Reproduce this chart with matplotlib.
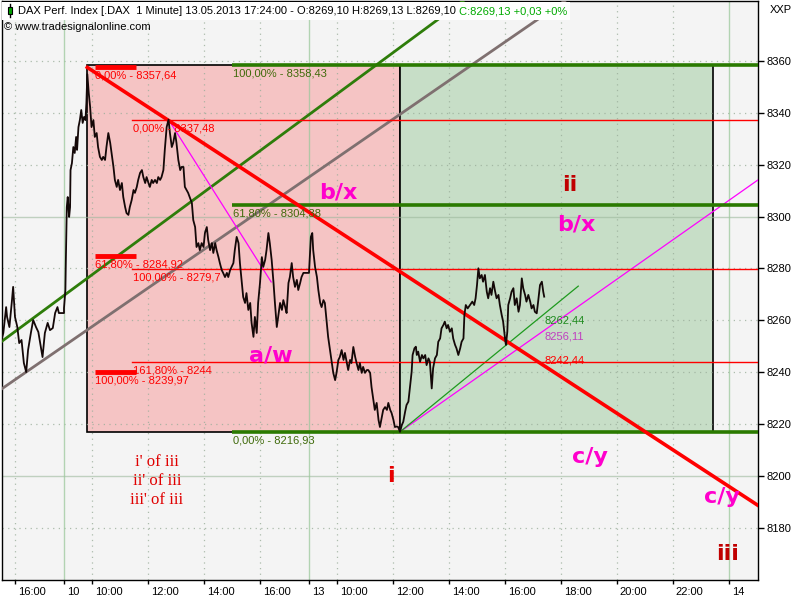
import matplotlib
matplotlib.use("Agg")
import matplotlib.pyplot as plt
from matplotlib.patches import Rectangle
from matplotlib.lines import Line2D
from matplotlib.transforms import ScaledTranslation
import numpy as np

plt.rcParams['font.family'] = ['Liberation Sans', 'DejaVu Sans']

# ------------------------------------------------------------------ data
day9_times = ["15:31", "15:35", "15:41", "15:43", "15:48", "15:53", "15:56", "16:00", "16:05",
              "16:09", "16:14", "16:19", "16:24", "16:28", "16:34", "16:39", "16:45", "16:50",
              "16:54", "16:59", "17:04", "17:10", "17:15", "17:21", "17:26", "17:31", "17:34",
              "17:45"]
day9_prices = [8252.4, 8255.1, 8265.1, 8261.3, 8257.4, 8266.7, 8272.9, 8261.3, 8257.4,
               8251.2, 8252.4, 8243.5, 8240.0, 8248.5, 8255.1, 8260.1, 8257.4, 8255.5,
               8251.2, 8245.8, 8255.1, 8259.0, 8256.2, 8257.0, 8262.8, 8265.1, 8262.8,
               8262.8]

day10_times = ["09:00", "09:03", "09:04", "09:06", "09:08", "09:11", "09:13", "09:14", "09:17",
               "09:20", "09:23", "09:26", "09:28", "09:31", "09:34", "09:37", "09:40", "09:43",
               "09:46", "09:48", "09:50", "09:53", "09:56", "09:59", "10:03", "10:06", "10:10",
               "10:13", "10:17", "10:21", "10:24", "10:28", "10:31", "10:35", "10:39", "10:42",
               "10:46", "10:49", "10:53", "10:56", "11:00", "11:04", "11:07", "11:11", "11:14",
               "11:18", "11:21", "11:25", "11:29", "11:32", "11:36", "11:39", "11:43", "11:47",
               "11:50", "11:54", "11:57", "12:01", "12:04", "12:08", "12:11", "12:15", "12:19",
               "12:22", "12:26", "12:29", "12:33", "12:36", "12:40", "12:44", "12:47", "12:51",
               "12:54", "12:58", "13:01", "13:05", "13:09", "13:12", "13:16", "13:19", "13:26",
               "13:34", "13:37", "13:41", "13:44", "13:48", "13:51", "13:55", "13:59", "14:02",
               "14:06", "14:09", "14:13", "14:17", "14:20", "14:24", "14:27", "14:31", "14:34",
               "14:38", "14:41", "14:45", "14:49", "14:52", "14:56", "14:59", "15:03", "15:06",
               "15:10", "15:14", "15:17", "15:21", "15:24", "15:28", "15:31", "15:35", "15:39",
               "15:42", "15:46", "15:49", "15:53", "15:56", "16:00", "16:04", "16:07", "16:11",
               "16:14", "16:18", "16:21", "16:25", "16:29", "16:32", "16:36", "16:39", "16:43",
               "16:47", "16:50", "16:54", "16:57", "17:01", "17:04", "17:08", "17:11", "17:15",
               "17:19", "17:22", "17:26", "17:29", "17:33", "17:36", "17:45"]
day10_prices = [8264.7, 8271.7, 8283.3, 8303.7, 8307.6, 8299.9, 8303.7, 8318.0, 8320.7,
                8326.9, 8324.6, 8330.8, 8325.8, 8334.6, 8337.3, 8341.2, 8336.2, 8338.5,
                8337.3, 8343.9, 8355.0, 8347.8, 8342.4, 8334.6, 8337.3, 8330.8, 8332.3,
                8326.9, 8323.1, 8321.9, 8323.1, 8321.9, 8326.9, 8332.3, 8328.5, 8324.6,
                8319.2, 8314.2, 8311.5, 8314.2, 8310.3, 8313.0, 8307.6, 8303.7, 8301.4,
                8300.7, 8303.7, 8306.4, 8310.3, 8309.2, 8311.5, 8314.2, 8316.9, 8318.0,
                8315.3, 8313.0, 8315.3, 8313.0, 8311.5, 8314.2, 8313.0, 8314.2, 8313.0,
                8315.3, 8314.2, 8315.3, 8318.0, 8325.8, 8334.6, 8337.48, 8332.3, 8326.9,
                8328.5, 8332.3, 8328.5, 8321.9, 8318.0, 8319.2, 8319.2, 8311.5, 8309.2,
                8305.3, 8298.7, 8296.0, 8288.3, 8289.8, 8287.1, 8289.8, 8288.3, 8293.7,
                8296.0, 8291.0, 8287.1, 8289.8, 8286.0, 8289.8, 8287.1, 8284.4, 8282.1,
                8279.4, 8278.3, 8276.7, 8278.3, 8276.7, 8279.4, 8280.6, 8282.1, 8287.1,
                8292.2, 8289.8, 8282.1, 8274.4, 8269.0, 8266.7, 8270.5, 8264.0, 8266.7,
                8259.0, 8253.6, 8261.3, 8255.1, 8266.7, 8274.4, 8284.4, 8280.6, 8283.3,
                8287.1, 8293.7, 8289.8, 8283.3, 8274.4, 8266.7, 8257.4, 8261.3, 8266.7,
                8264.0, 8267.8, 8265.1, 8262.8, 8274.4, 8276.7, 8282.1, 8276.7, 8272.9,
                8275.6, 8271.7, 8274.4, 8276.7, 8278.3, 8278.3, 8278.3]

day13_times = ["09:04", "09:07", "09:09", "09:13", "09:17", "09:20", "09:24", "09:27", "09:31",
               "09:34", "09:38", "09:41", "09:45", "09:49", "09:52", "09:56", "09:59", "10:03",
               "10:06", "10:10", "10:14", "10:17", "10:21", "10:24", "10:28", "10:31", "10:35",
               "10:39", "10:42", "10:46", "10:49", "10:53", "10:56", "11:00", "11:04", "11:07",
               "11:11", "11:14", "11:18", "11:21", "11:25", "11:29", "11:32", "11:36", "11:39",
               "11:43", "11:47", "11:50", "11:54", "11:57", "12:01", "12:04", "12:08", "12:11",
               "12:15", "12:19", "12:22", "12:26", "12:29", "12:33", "12:36", "12:40", "12:42",
               "12:46", "12:49", "12:51", "12:54", "12:58", "13:02", "13:05", "13:09", "13:12",
               "13:16", "13:19", "13:23", "13:26", "13:30", "13:34", "13:37", "13:41", "13:44",
               "13:48", "13:51", "13:55", "13:58", "14:02", "14:06", "14:09", "14:13", "14:16",
               "14:20", "14:24", "14:27", "14:31", "14:33", "14:36", "14:40", "14:45", "14:50",
               "14:54", "14:57", "15:00", "15:03", "15:06", "15:10", "15:13", "15:17", "15:21",
               "15:24", "15:28", "15:31", "15:35", "15:39", "15:42", "15:46", "15:49", "15:53",
               "15:56", "16:00", "16:02", "16:05", "16:07", "16:11", "16:14", "16:18", "16:21",
               "16:25", "16:29", "16:32", "16:36", "16:39", "16:43", "16:46", "16:50", "16:54",
               "16:57", "17:01", "17:04", "17:08", "17:11", "17:15", "17:19", "17:22", "17:24"]
day13_prices = [8292.2, 8293.7, 8287.1, 8280.6, 8276.7, 8271.7, 8266.7, 8265.1, 8267.8,
                8266.7, 8259.0, 8253.6, 8248.5, 8243.5, 8239.7, 8236.9, 8239.7, 8244.7,
                8245.8, 8248.5, 8244.7, 8247.4, 8243.5, 8240.8, 8244.7, 8243.5, 8249.7,
                8245.8, 8243.5, 8240.8, 8243.5, 8239.7, 8242.0, 8239.7, 8240.8, 8240.8,
                8239.7, 8234.2, 8229.2, 8225.4, 8228.1, 8221.5, 8218.8, 8222.7, 8225.4,
                8226.5, 8225.4, 8228.1, 8225.4, 8224.2, 8221.5, 8218.8, 8219.0, 8218.8,
                8216.93, 8219.6, 8220.8, 8224.7, 8227.3, 8228.6, 8233.7, 8240.2, 8246.6,
                8249.2, 8249.8, 8246.6, 8247.9, 8244.0, 8246.6, 8245.3, 8246.6, 8242.7,
                8245.3, 8244.0, 8233.7, 8241.5, 8245.3, 8246.6, 8251.7, 8253.0, 8256.9,
                8258.2, 8259.5, 8256.9, 8258.2, 8255.6, 8256.9, 8253.0, 8250.5, 8249.2,
                8246.6, 8249.2, 8251.7, 8253.0, 8262.0, 8265.9, 8264.6, 8265.9, 8267.2,
                8265.9, 8268.5, 8273.6, 8280.1, 8276.2, 8277.5, 8274.9, 8277.5, 8271.0,
                8268.5, 8272.4, 8269.8, 8274.9, 8271.0, 8268.5, 8269.8, 8265.9, 8262.0,
                8259.5, 8253.0, 8250.5, 8255.6, 8265.9, 8268.5, 8271.0, 8272.4, 8265.9,
                8268.5, 8263.3, 8265.9, 8276.2, 8272.4, 8269.8, 8267.2, 8269.8, 8267.2,
                8264.6, 8265.9, 8263.3, 8262.7, 8267.2, 8273.6, 8274.9, 8271.0, 8269.13]

# x-axis ticks: (day, time, label)
tick_days = ["09", "10", "10", "10", "10", "10", "13", "13", "13", "13", "13", "13", "13", "13", "13"]
tick_times = ["16:00", "09:00", "10:00", "12:00", "14:00", "16:00", "09:00", "10:00", "12:00",
              "14:00", "16:00", "18:00", "20:00", "22:00", "24:00"]
tick_labels = ["16:00", "10", "10:00", "12:00", "14:00", "16:00", "13", "10:00", "12:00",
               "14:00", "16:00", "18:00", "20:00", "22:00", "14"]
day_break_labels = ["10", "13", "14"]
price_ticks = [8180, 8200, 8220, 8240, 8260, 8280, 8300, 8320, 8340, 8360]

# fibonacci tools
red_fib_a_pct = ["0,00%", "61,80%", "100,00%"]
red_fib_a_val = [8357.64, 8284.92, 8239.97]
red_fib_b_pct = ["0,00%", "100,00%", "161,80%"]
red_fib_b_val = [8337.48, 8279.7, 8244.0]
green_fib_pct = ["100,00%", "61,80%", "0,00%"]
green_fib_val = [8358.43, 8304.38, 8216.93]

# key swing points
peak_high = ("10", "09:50", 8357.64)
low_point = ("13", "12:15", 8216.93)
last_bar = ("13", "17:24")
red_trend_last = 8242.44
magenta_last = 8256.11
green_thin_last = 8262.44

# channel anchors (day, time, price)
green_chan = [("10", "09:00", 8269.6), ("13", "09:00", 8339.4)]
gray_chan = [("10", "09:00", 8250.1), ("13", "09:00", 8315.3)]
magenta_seg = [("10", "12:44", 8337.48), ("10", "16:24", 8274.8)]

# ------------------------------------------------------------------ helpers
SESSION_START = 9.0
SESSION_LEN = 8.75
DAY_OFFSET = {"09": -1, "10": 0, "13": 1}


def t_of(day, hhmm):
    h, m = map(int, hhmm.split(":"))
    return DAY_OFFSET[day] * SESSION_LEN + h + m / 60.0 - SESSION_START


def fmt(v):
    s = f"{v:.2f}".rstrip("0").rstrip(".")
    return s.replace(".", ",")


X0, X1 = -2.232, 24.786
Y0, Y1 = 8159.73, 8383.28

fig = plt.figure(figsize=(8, 6), dpi=100)
fig.patch.set_facecolor("white")
ax = fig.add_axes([1.5 / 800, 20 / 600, 756.5 / 800, 579 / 600])
ax.set_facecolor("#F4F4F4")
ax.set_xlim(X0, X1)
ax.set_ylim(Y0, Y1)

# ---- boxes
t_hi = t_of(*peak_high[:2])
t_lo = t_of(*low_point[:2])
box_w = t_lo - t_hi
ax.add_patch(Rectangle((t_hi, green_fib_val[2]), box_w, green_fib_val[0] - green_fib_val[2],
                       facecolor="#F5C4C4", edgecolor="black", lw=1.2, zorder=1))
ax.add_patch(Rectangle((t_lo, green_fib_val[2]), box_w, green_fib_val[0] - green_fib_val[2],
                       facecolor="#C7DEC7", edgecolor="black", lw=1.2, zorder=1))

# ---- grid
for p in price_ticks:
    if p in (8200, 8300):
        ax.axhline(p, color="#9DB89D", lw=1.0, alpha=0.6, zorder=1.5)
    else:
        ax.axhline(p, color="#9AAE9A", lw=0.9, ls=(0, (1, 3.5)), alpha=0.8, zorder=1.5)
tick_t = [t_of(d, tt) for d, tt in zip(tick_days, tick_times)]
for tt, lab in zip(tick_t, tick_labels):
    if lab in day_break_labels:
        ax.axvline(tt, color="#9CC89C", lw=1.0, alpha=0.75, zorder=1.5)
    else:
        ax.axvline(tt, color="#9AAE9A", lw=0.9, ls=(0, (1, 3.5)), alpha=0.8, zorder=1.5)


# ---- trend / channel lines
def line_vals(p1, p2, ts):
    ta, pa = t_of(p1[0], p1[1]), p1[2]
    tb, pb = t_of(p2[0], p2[1]), p2[2]
    k = (pb - pa) / (tb - ta)
    return [pa + k * (t - ta) for t in ts]


ax.plot([X0, X1], line_vals(*green_chan, [X0, X1]), color="#2E7D0A", lw=2.0, zorder=3)
ax.plot([X0, X1], line_vals(*gray_chan, [X0, X1]), color="#7F7070", lw=2.0, zorder=3)

t_last = t_of(*last_bar)
red_p2 = (last_bar[0], last_bar[1], red_trend_last)
ax.plot([t_hi, X1], line_vals(peak_high, red_p2, [t_hi, X1]), color="#FF0000", lw=2.6, zorder=4)

ax.plot([t_of(*magenta_seg[0][:2]), t_of(*magenta_seg[1][:2])],
        [magenta_seg[0][2], magenta_seg[1][2]], color="#FF00FF", lw=0.9, zorder=3)
mag_p2 = (last_bar[0], last_bar[1], magenta_last)
ax.plot([t_lo, X1], line_vals(low_point, mag_p2, [t_lo, X1]), color="#FF00FF", lw=0.9, zorder=3)
gt_p2 = (last_bar[0], last_bar[1], green_thin_last)
t_gend = t_of("13", "18:37")
ax.plot([t_lo, t_gend], line_vals(low_point, gt_p2, [t_lo, t_gend]), color="#1E9A1E", lw=0.9, zorder=3)

# ---- fib levels
small = dict(fontsize=8, zorder=6)
ta0, ta1 = t_of("10", "10:06"), t_of("10", "11:34")
for pct, v in zip(red_fib_a_pct, red_fib_a_val):
    ax.plot([ta0, ta1], [v, v], color="#FF0000", lw=3.5, solid_capstyle="butt", zorder=4)
    ax.annotate(f"{pct} - {fmt(v)}", (ta0, v), xytext=(0.5, -2.5), textcoords="offset points",
                va="top", ha="left", color="#FF0000", **small)
tb0 = t_of("10", "11:26")
for pct, v in zip(red_fib_b_pct, red_fib_b_val):
    ax.plot([tb0, X1], [v, v], color="#FF0000", lw=1.0, zorder=3)
    ax.annotate(f"{pct} - {fmt(v)}", (tb0, v), xytext=(0.5, -2.5), textcoords="offset points",
                va="top", ha="left", color="#FF0000", **small)
tg0 = t_of("10", "15:00")
for pct, v in zip(green_fib_pct, green_fib_val):
    ax.plot([tg0, X1], [v, v], color="#2A7A00", lw=2.6, solid_capstyle="butt", zorder=3)
    ax.annotate(f"{pct} - {fmt(v)}", (tg0, v), xytext=(0.5, -2.5), textcoords="offset points",
                va="top", ha="left", color="#3F6A0A", **small)

# ---- price series
pt = ([t_of("09", s) for s in day9_times] + [t_of("10", s) for s in day10_times]
      + [t_of("13", s) for s in day13_times])
pp = day9_prices + day10_prices + day13_prices
ax.plot(pt, pp, color="#140808", lw=1.3, zorder=5)

# ---- value labels at last bar
ax.annotate(fmt(green_thin_last), (t_last, green_thin_last), xytext=(0, -1), textcoords="offset points",
            va="top", ha="left", color="#1E8A1E", **small)
ax.annotate(fmt(magenta_last), (t_last, magenta_last), xytext=(0, -1), textcoords="offset points",
            va="top", ha="left", color="#C040C0", **small)
ax.annotate(fmt(red_trend_last), (t_last, red_trend_last), xytext=(0, 0), textcoords="offset points",
            va="bottom", ha="left", color="#FF0000", **small)

# ---- wave labels
wave = dict(fontsize=16, fontweight="bold", family="DejaVu Sans", ha="center", va="center", zorder=7)
mag = "#FF00CC"
ax.text(9.786, 8309.2, "b/x", color=mag, **wave)
ax.text(7.393, 8246.6, "a/w", color=mag, **wave)
ax.text(18.07, 8312.2, "ii", color="#C00000", **wave)
ax.text(18.29, 8296.8, "b/x", color=mag, **wave)
ax.text(18.79, 8207.2, "c/y", color=mag, **wave)
ax.text(11.68, 8199.9, "i", color="#E80000", **wave)
ax.text(23.50, 8191.6, "c/y", color=mag, **wave)
ax.text(23.71, 8169.6, "iii", color="#C00000", **wave)
serif = dict(fontsize=12, family="Liberation Serif", ha="center", va="center", color="#E00000", zorder=7)
ax.text(3.32, 8205.3, "i' of iii", **serif)
ax.text(3.32, 8198.0, "ii' of iii", **serif)
ax.text(3.32, 8190.6, "iii' of iii", **serif)

# ---- axes styling
for s in ax.spines.values():
    s.set_color("black")
    s.set_linewidth(1.0)
ax.set_xticks(tick_t)
ax.set_xticklabels(tick_labels, fontsize=8)
ax.tick_params(axis="x", direction="out", length=3, width=1, pad=2)
off = ScaledTranslation(2 / 72, 0, fig.dpi_scale_trans)
for lbl in ax.get_xticklabels():
    lbl.set_horizontalalignment("left")
    lbl.set_transform(lbl.get_transform() + off)
ax.yaxis.tick_right()
ax.set_yticks(price_ticks)
ax.set_yticklabels([str(p) for p in price_ticks], fontsize=8)
ax.tick_params(axis="y", direction="out", length=4, width=1, pad=2)

# ---- header
H = 600.0
W = 800.0
fig.patches.append(Rectangle((2 / W, 1 - 20 / H), 568 / W, 18 / H, transform=fig.transFigure,
                             facecolor="white", edgecolor="none", zorder=5))
fig.lines.append(Line2D([10 / W, 10 / W], [1 - 4 / H, 1 - 17 / H], transform=fig.transFigure,
                        color="black", lw=1, zorder=6))
fig.patches.append(Rectangle((8 / W, 1 - 14 / H), 4 / W, 7 / H, transform=fig.transFigure,
                             facecolor="#00A000", edgecolor="black", lw=0.8, zorder=7))
t1 = fig.text(18 / W, 1 - 11 / H,
              "DAX Perf. Index [.DAX  1 Minute] 13.05.2013 17:24:00 - O:8269,10 H:8269,13 L:8269,10 ",
              fontsize=8, va="center", ha="left", color="black", zorder=8)
fig.canvas.draw()
bb = t1.get_window_extent(renderer=fig.canvas.get_renderer())
fig.text(bb.x1 / W, 1 - 11 / H, "C:8269,13 +0,03 +0%", fontsize=8, va="center", ha="left",
         color="#00AA00", zorder=8)
fig.text(4 / W, 1 - 27 / H, "\u00a9 www.tradesignalonline.com", fontsize=8, va="center", ha="left",
         color="black", zorder=8)
fig.text(770 / W, 1 - 10 / H, "XXP", fontsize=8, va="center", ha="left", color="black")

fig.savefig("out.png", dpi=100)
